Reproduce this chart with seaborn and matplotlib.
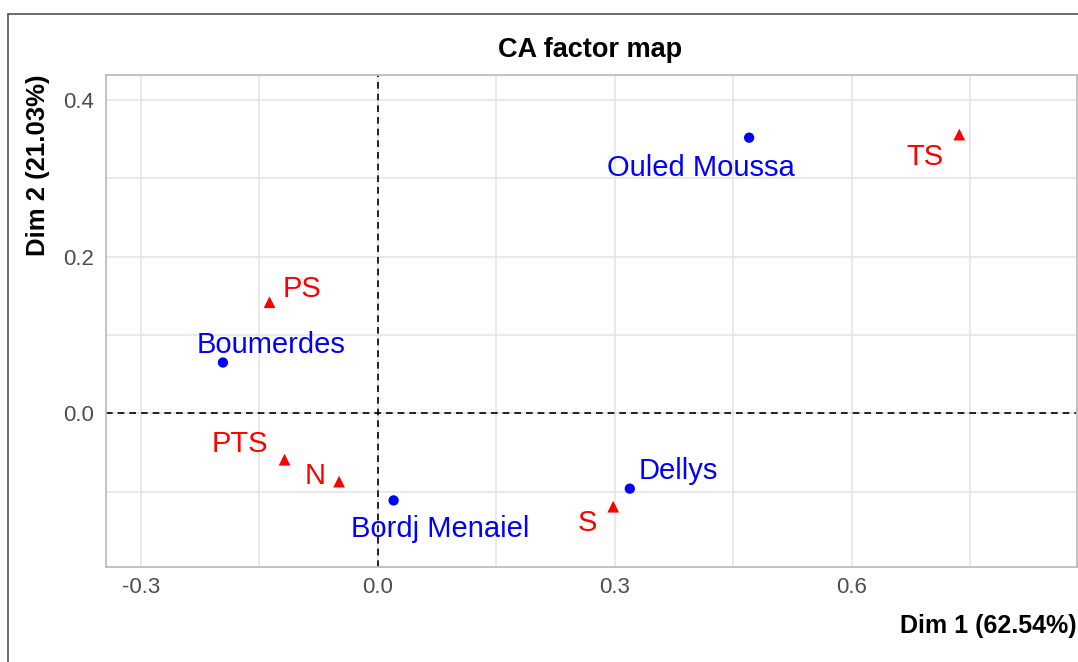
"""
CA factor map (correspondence analysis biplot) redrawn with seaborn.
"""

import matplotlib

matplotlib.use("Agg")
import matplotlib.pyplot as plt
import numpy as np
import pandas as pd
import seaborn as sns
from matplotlib.lines import Line2D

# ---------------------------------------------------
# DATA
# ---------------------------------------------------
row_names = ["Ouled Moussa", "Boumerdes", "Bordj Menaiel", "Dellys"]
row_dim1 = [0.470, -0.196, 0.020, 0.319]
row_dim2 = [0.352, 0.065, -0.111, -0.096]

col_names = ["TS", "PS", "PTS", "N", "S"]
col_dim1 = [0.736, -0.137, -0.118, -0.049, 0.298]
col_dim2 = [0.356, 0.142, -0.059, -0.087, -0.119]

x_ticks = [-0.3, 0.0, 0.3, 0.6]
y_ticks = [0.0, 0.2, 0.4]

TITLE = "CA factor map"
X_LABEL = "Dim 1 (62.54%)"
Y_LABEL = "Dim 2 (21.03%)"

# ---------------------------------------------------
# LAYOUT (label offsets in pixels, repel-like placement)
# ---------------------------------------------------
LABEL_OFFSETS = {
    "Ouled Moussa": (-48, -38),
    "Boumerdes": (48, 10),
    "Bordj Menaiel": (47, -37),
    "Dellys": (48, 10),
    "TS": (-34, -30),
    "PS": (32, 5),
    "PTS": (-45, 8),
    "N": (-24, -2),
    "S": (-26, -24),
}

ROW_COLOR = "#0000FF"
COL_COLOR = "#FF0000"
W, H = 1078, 662

# ---------------------------------------------------
# Build the frame
# ---------------------------------------------------
df = pd.concat(
    [
        pd.DataFrame({"name": row_names, "dim1": row_dim1, "dim2": row_dim2, "kind": "row"}),
        pd.DataFrame({"name": col_names, "dim1": col_dim1, "dim2": col_dim2, "kind": "col"}),
    ],
    ignore_index=True,
)

sns.set_theme(style="white")
plt.rcParams["font.family"] = ["Liberation Sans", "DejaVu Sans"]

fig = plt.figure(figsize=(W / 100, H / 100), dpi=100)
ax = fig.add_axes([106 / W, 1 - 567 / H, (1077 - 106) / W, (567 - 75) / H])

sns.scatterplot(
    data=df,
    x="dim1",
    y="dim2",
    hue="kind",
    style="kind",
    size="kind",
    palette={"row": ROW_COLOR, "col": COL_COLOR},
    markers={"row": "o", "col": "^"},
    sizes={"row": 55, "col": 72},
    linewidth=0,
    legend=False,
    ax=ax,
    zorder=3,
)

# labels
for _, r in df.iterrows():
    dx, dy = LABEL_OFFSETS[r["name"]]
    ax.annotate(
        r["name"],
        (r["dim1"], r["dim2"]),
        xytext=(dx, dy),
        textcoords="offset pixels",
        ha="center",
        va="baseline",
        fontsize=21,
        color=ROW_COLOR if r["kind"] == "row" else COL_COLOR,
        zorder=4,
    )

# axes, grid
ax.set_xlim(-0.344, 0.885)
ax.set_ylim(-0.196, 0.432)
ax.set_xticks(x_ticks)
ax.set_yticks(y_ticks)
ax.set_xticks([-0.15, 0.15, 0.45, 0.75], minor=True)
ax.set_yticks([-0.1, 0.1, 0.3], minor=True)
ax.set_xticklabels([f"{v:.1f}" for v in x_ticks])
ax.set_yticklabels([f"{v:.1f}" for v in y_ticks])
ax.grid(True, which="both", color="#E3E3E3", linewidth=1.1, zorder=0)
ax.set_axisbelow(True)
ax.axhline(0, color="black", linestyle=(0, (4, 3)), linewidth=1.2, zorder=2)
ax.axvline(0, color="black", linestyle=(0, (4, 3)), linewidth=1.2, zorder=2)

for sp in ax.spines.values():
    sp.set_color("#BDBDBD")
    sp.set_linewidth(1.3)
ax.tick_params(which="major", length=4.5, width=1.0, color="#BDBDBD",
               labelsize=16, labelcolor="#4D4D4D")
ax.tick_params(axis="x", pad=3)
ax.tick_params(axis="y", pad=4)
ax.tick_params(which="minor", length=0)
ax.set_xlabel("")
ax.set_ylabel("")

# titles
fig.text(590 / W, 1 - 57 / H, TITLE, ha="center", va="baseline",
         fontsize=19.5, fontweight="bold", color="black")
fig.text(1077 / W, 1 - 633 / H, X_LABEL, ha="right", va="baseline",
         fontsize=18, fontweight="bold", color="black")
fig.text(38 / W, 1 - 75 / H, Y_LABEL, ha="center", va="top", rotation=90,
         fontsize=18.5, fontweight="bold", color="black")

# outer frame (only top and left visible in the crop)
fig.add_artist(Line2D([8 / W, 1], [1 - 14 / H, 1 - 14 / H], transform=fig.transFigure,
                      color="#555555", linewidth=1.2))
fig.add_artist(Line2D([8 / W, 8 / W], [0, 1 - 14 / H], transform=fig.transFigure,
                      color="#555555", linewidth=1.2))

fig.savefig("out.png", dpi=100)
